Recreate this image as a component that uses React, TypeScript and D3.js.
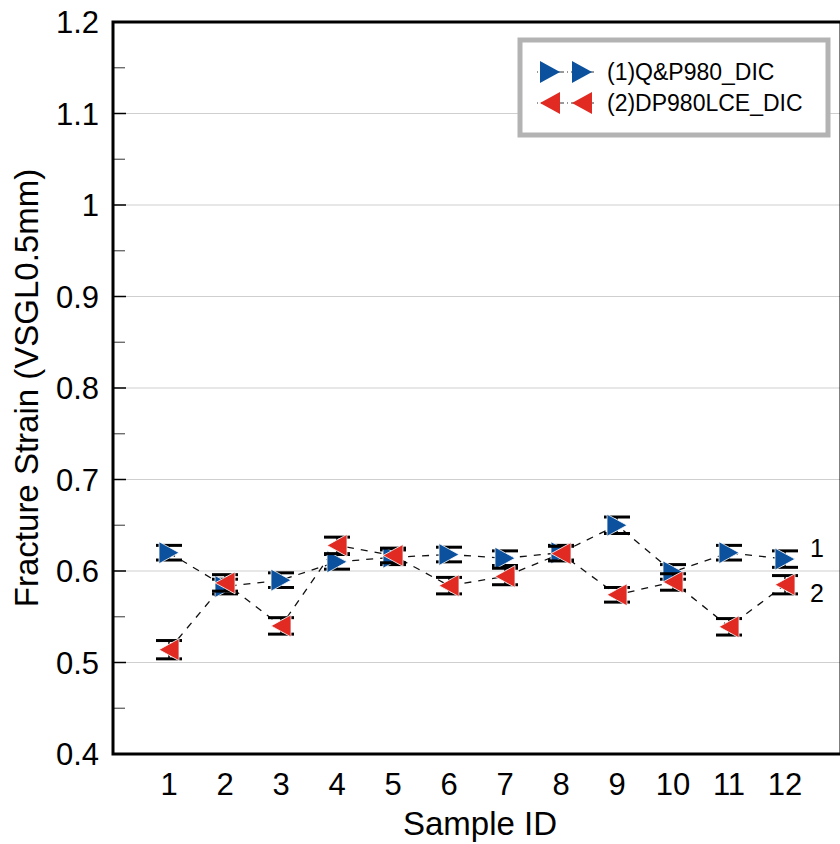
import { useEffect, useRef } from 'react';
import * as d3 from 'd3';

// Sample IDs on the x axis
const samples = [1, 2, 3, 4, 5, 6, 7, 8, 9, 10, 11, 12];

// (1) Q&P980_DIC
const qpValues = [0.620, 0.583, 0.590, 0.610, 0.615, 0.618, 0.614, 0.620, 0.650, 0.599, 0.620, 0.613];
// (2) DP980LCE_DIC
const dpValues = [0.514, 0.587, 0.540, 0.628, 0.617, 0.584, 0.594, 0.619, 0.574, 0.588, 0.539, 0.585];
// error bar half-widths
const qpErr = [0.008, 0.008, 0.008, 0.008, 0.008, 0.008, 0.008, 0.008, 0.009, 0.008, 0.008, 0.009];
const dpErr = [0.010, 0.009, 0.009, 0.009, 0.008, 0.009, 0.009, 0.008, 0.008, 0.009, 0.009, 0.010];

const yTicks = [0.4, 0.5, 0.6, 0.7, 0.8, 0.9, 1, 1.1, 1.2];
const seriesNames = ['(1)Q&P980_DIC', '(2)DP980LCE_DIC'];
const endLabels = ['1', '2'];

const BLUE = '#0b519d';
const RED = '#e02a22';
const FONT = 'Liberation Sans, Arial, sans-serif';

export default function App() {
  const svgRef = useRef<SVGSVGElement | null>(null);

  useEffect(() => {
    const el = svgRef.current;
    if (!el) return;
    d3.select(el).selectAll('*').remove();

    const W = 840, H = 844;
    const margin = { top: 22, left: 113, bottom: 90 };
    const svg = d3.select(el).attr('width', W).attr('height', H);

    const x = d3.scaleLinear().domain([0, 13]).range([margin.left, margin.left + 56 * 13]);
    const y = d3.scaleLinear().domain([0.4, 1.2]).range([H - margin.bottom, margin.top]);

    const x0 = margin.left;
    const x1 = x(13);

    // grid lines
    svg.append('g')
      .selectAll('line')
      .data(yTicks.slice(1, -1))
      .join('line')
      .attr('x1', x0).attr('x2', x1)
      .attr('y1', d => y(d)).attr('y2', d => y(d))
      .attr('stroke', '#cfcfcf')
      .attr('stroke-width', 1.2);

    // minor ticks
    const minor = d3.range(0, 8).map(i => 0.45 + i * 0.1);
    svg.append('g')
      .selectAll('line')
      .data(minor)
      .join('line')
      .attr('x1', x0).attr('x2', x0 + 12)
      .attr('y1', d => y(d)).attr('y2', d => y(d))
      .attr('stroke', '#555')
      .attr('stroke-width', 1.2);

    // major ticks
    svg.append('g')
      .selectAll('line')
      .data(yTicks)
      .join('line')
      .attr('x1', x0).attr('x2', x0 + 13)
      .attr('y1', d => y(d)).attr('y2', d => y(d))
      .attr('stroke', '#000')
      .attr('stroke-width', 1.5);

    // frame
    svg.append('rect')
      .attr('x', x0).attr('y', y(1.2))
      .attr('width', x1 - x0).attr('height', y(0.4) - y(1.2))
      .attr('fill', 'none')
      .attr('stroke', '#000')
      .attr('stroke-width', 3);

    // y tick labels
    svg.append('g')
      .selectAll('text')
      .data(yTicks)
      .join('text')
      .attr('x', x0 - 14)
      .attr('y', d => y(d) + 11)
      .attr('text-anchor', 'end')
      .style('font-family', FONT)
      .style('font-size', '31px')
      .text(d => (d === 1 ? '1' : d3.format('.1f')(d)));

    // x tick labels
    svg.append('g')
      .selectAll('text')
      .data(samples)
      .join('text')
      .attr('x', d => x(d))
      .attr('y', y(0.4) + 41)
      .attr('text-anchor', 'middle')
      .style('font-family', FONT)
      .style('font-size', '31px')
      .text(d => d);

    // axis titles
    svg.append('text')
      .attr('x', 480).attr('y', 835)
      .attr('text-anchor', 'middle')
      .style('font-family', FONT)
      .style('font-size', '33px')
      .text('Sample ID');

    svg.append('text')
      .attr('transform', `translate(38,${(y(0.4) + y(1.2)) / 2}) rotate(-90)`)
      .attr('text-anchor', 'middle')
      .style('font-family', FONT)
      .style('font-size', '33px')
      .text('Fracture Strain (VSGL0.5mm)');

    const series = [
      { values: qpValues, err: qpErr, color: BLUE, dir: 1 },
      { values: dpValues, err: dpErr, color: RED, dir: -1 },
    ];

    const line = d3.line<number>()
      .x((_, i) => x(samples[i]))
      .y(d => y(d));

    // triangle path centred at 0,0 pointing right (dir=1) or left (dir=-1)
    const tri = (dir: number, s = 1) => {
      const hw = 10 * s, hh = 11 * s;
      return `M${-hw * dir},${-hh}L${hw * dir},0L${-hw * dir},${hh}Z`;
    };

    series.forEach(s => {
      svg.append('path')
        .datum(s.values)
        .attr('d', line)
        .attr('fill', 'none')
        .attr('stroke', '#111')
        .attr('stroke-width', 1.3)
        .attr('stroke-dasharray', '7,7');
    });

    series.forEach((s, si) => {
      const g = svg.append('g');
      s.values.forEach((v, i) => {
        const cx = x(samples[i]);
        const top = y(v + s.err[i]);
        const bot = y(v - s.err[i]);
        g.append('line')
          .attr('x1', cx).attr('x2', cx).attr('y1', top).attr('y2', bot)
          .attr('stroke', '#000').attr('stroke-width', 1.5);
        [top, bot].forEach(yy => {
          g.append('line')
            .attr('x1', cx - 13).attr('x2', cx + 13)
            .attr('y1', yy).attr('y2', yy)
            .attr('stroke', '#000').attr('stroke-width', 3);
        });
        g.append('path')
          .attr('transform', `translate(${cx},${y(v)})`)
          .attr('d', tri(s.dir))
          .attr('fill', s.color)
          .attr('stroke', '#fff')
          .attr('stroke-width', 0.8);
      });
      const last = s.values.length - 1;
      svg.append('text')
        .attr('x', x(samples[last]) + 25)
        .attr('y', y(s.values[last]) + (s.dir === 1 ? -2 : 17))
        .style('font-family', FONT)
        .style('font-size', '25px')
        .text(endLabels[si]);
    });

    // legend
    const lg = svg.append('g');
    lg.append('rect')
      .attr('x', 520).attr('y', 40)
      .attr('width', 308).attr('height', 95)
      .attr('fill', '#fff')
      .attr('stroke', '#b3b3b3')
      .attr('stroke-width', 5);
    series.forEach((s, i) => {
      const ly = 72 + i * 31;
      lg.append('line')
        .attr('x1', 537).attr('x2', 597)
        .attr('y1', ly).attr('y2', ly)
        .attr('stroke', '#333').attr('stroke-width', 1)
        .attr('stroke-dasharray', '1,3,8,3');
      [550, 582].forEach(mx => {
        lg.append('path')
          .attr('transform', `translate(${mx},${ly})`)
          .attr('d', tri(s.dir))
          .attr('fill', s.color);
      });
      lg.append('text')
        .attr('x', 607).attr('y', ly + 8)
        .style('font-family', FONT)
        .style('font-size', '23px')
        .text(seriesNames[i]);
    });
  }, []);

  return (
    <div style={{ position: 'absolute', left: 0, top: 0 }}>
      <svg ref={svgRef} style={{ display: 'block', background: '#fff' }} />
    </div>
  );
}
